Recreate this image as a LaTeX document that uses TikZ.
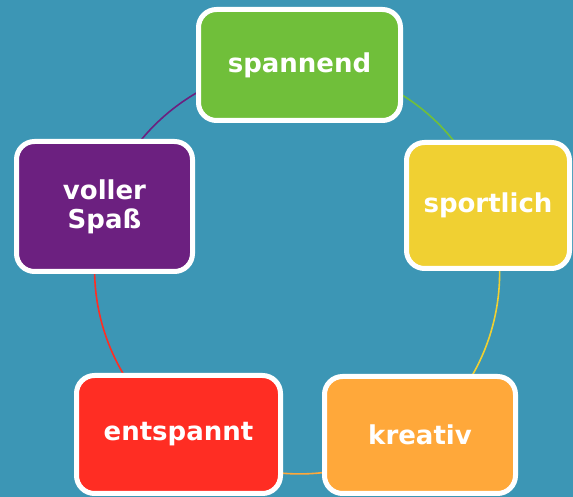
\documentclass[tikz,border=0pt]{standalone}
\usepackage{fontspec}
\setmainfont{DejaVu Sans}
\usepackage{tikz}
\usetikzlibrary{backgrounds}

\definecolor{hgblau}{RGB}{60,150,181}
\definecolor{gruen}{RGB}{112,191,58}
\definecolor{gelb}{RGB}{240,208,50}
\definecolor{orange}{RGB}{255,168,58}
\definecolor{rot}{RGB}{255,45,35}
\definecolor{lila}{RGB}{108,32,128}

\begin{document}
\begin{tikzpicture}[x=1pt, y=1pt,
  kasten/.style={draw=white, line width=5pt, rounded corners=18pt, text=white,
    align=center, font=\bfseries\fontsize{26}{29}\selectfont},
  bogen/.style={line width=1.6pt, bend left=36, looseness=0.94}]

\draw (299.5,432) node[kasten, fill=gruen, minimum width=202pt, minimum height=111pt] (spannend) {spannend} ;
\draw (488,291.5) node[kasten, fill=gelb, minimum width=163pt, minimum height=126pt] (sportlich) {sportlich} ;
\draw (420,62) node[kasten, fill=orange, minimum width=191pt, minimum height=117pt] (kreativ) {kreativ} ;
\draw (178.5,62.5) node[kasten, fill=rot, minimum width=204pt, minimum height=118pt] (entspannt) {entspannt} ;
\draw (104.5,290.5) node[kasten, fill=lila, minimum width=176pt, minimum height=130pt] (voller) {voller\\Spaß} ;

\begin{scope}[on background layer]
\fill[hgblau] (0,0) rectangle (573,497) ;
\draw[bogen, gruen] (spannend.center) to (sportlich.center) ;
\draw[bogen, gelb] (sportlich.center) to (kreativ.center) ;
\draw[bogen, orange] (kreativ.center) to (entspannt.center) ;
\draw[bogen, rot] (entspannt.center) to (voller.center) ;
\draw[bogen, lila] (voller.center) to (spannend.center) ;
\end{scope}

\end{tikzpicture}
\end{document}
